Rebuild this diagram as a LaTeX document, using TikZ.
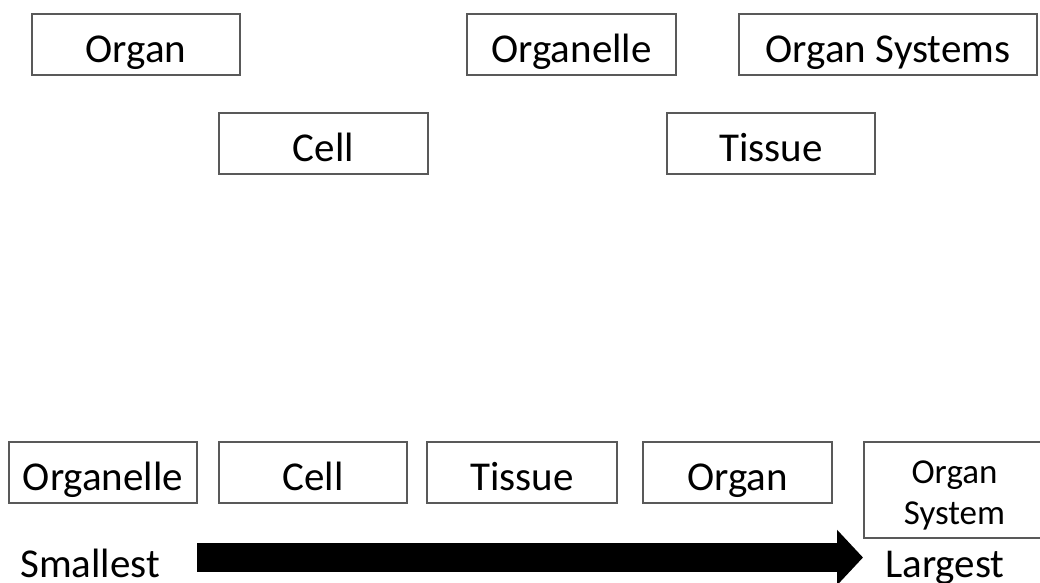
\documentclass[tikz,border=0pt]{standalone}
\usepackage{fontspec}
\setmainfont{Carlito}
\usetikzlibrary{arrows.meta}
\definecolor{boxgray}{HTML}{595959}

\begin{document}
\begin{tikzpicture}[x=1pt,y=-1pt,
        box/.style={draw=boxgray, line width=1.4pt, inner sep=0pt, minimum height=61pt,
            font=\fontsize{41}{49}\selectfont, text height=38pt, text depth=3pt},
        word/.style={inner sep=0pt, font=\fontsize{41}{49}\selectfont},
        bigarrow/.style={line width=29pt, -{Triangle[length=26pt,width=54pt]}}]
        \useasboundingbox (0,0) rectangle (1040,582);
        \clip (0,0) rectangle (1040,582);
        % jumbled levels
        \node[box, minimum width=208pt](organ)at(136,44.5){Organ};
        \node[box, minimum width=209pt](organelle)at(571.5,44.5){Organelle};
        \node[box, minimum width=298pt](systems)at(888,44.5){Organ Systems};
        \node[box, minimum width=209pt](cell)at(323.5,143.5){Cell};
        \node[box, minimum width=208pt](tissue)at(771,143.5){Tissue};
        % ordered levels
        \node[box, minimum width=188pt](organelleB)at(103,472.5){Organelle};
        \node[box, minimum width=188pt](cellB)at(313,472.5){Cell};
        \node[box, minimum width=190pt](tissueB)at(522,472.5){Tissue};
        \node[box, minimum width=189pt](organB)at(737.5,472.5){Organ};
        \node[box, minimum width=181pt, minimum height=96pt, align=center,
            font=\fontsize{35}{41}\selectfont, text height=68pt, text depth=0pt](systemB)at(954.5,490){Organ\\System};
        % scale arrow
        \node[word, anchor=base west](smallest)at(20,577){Smallest};
        \node[word, anchor=base west](largest)at(885,577){Largest};
        \coordinate(from)at(197,557.5);
        \coordinate(to)at(863,557.5);
        \path[draw, bigarrow](from)to(to);
    \end{tikzpicture}
\end{document}
